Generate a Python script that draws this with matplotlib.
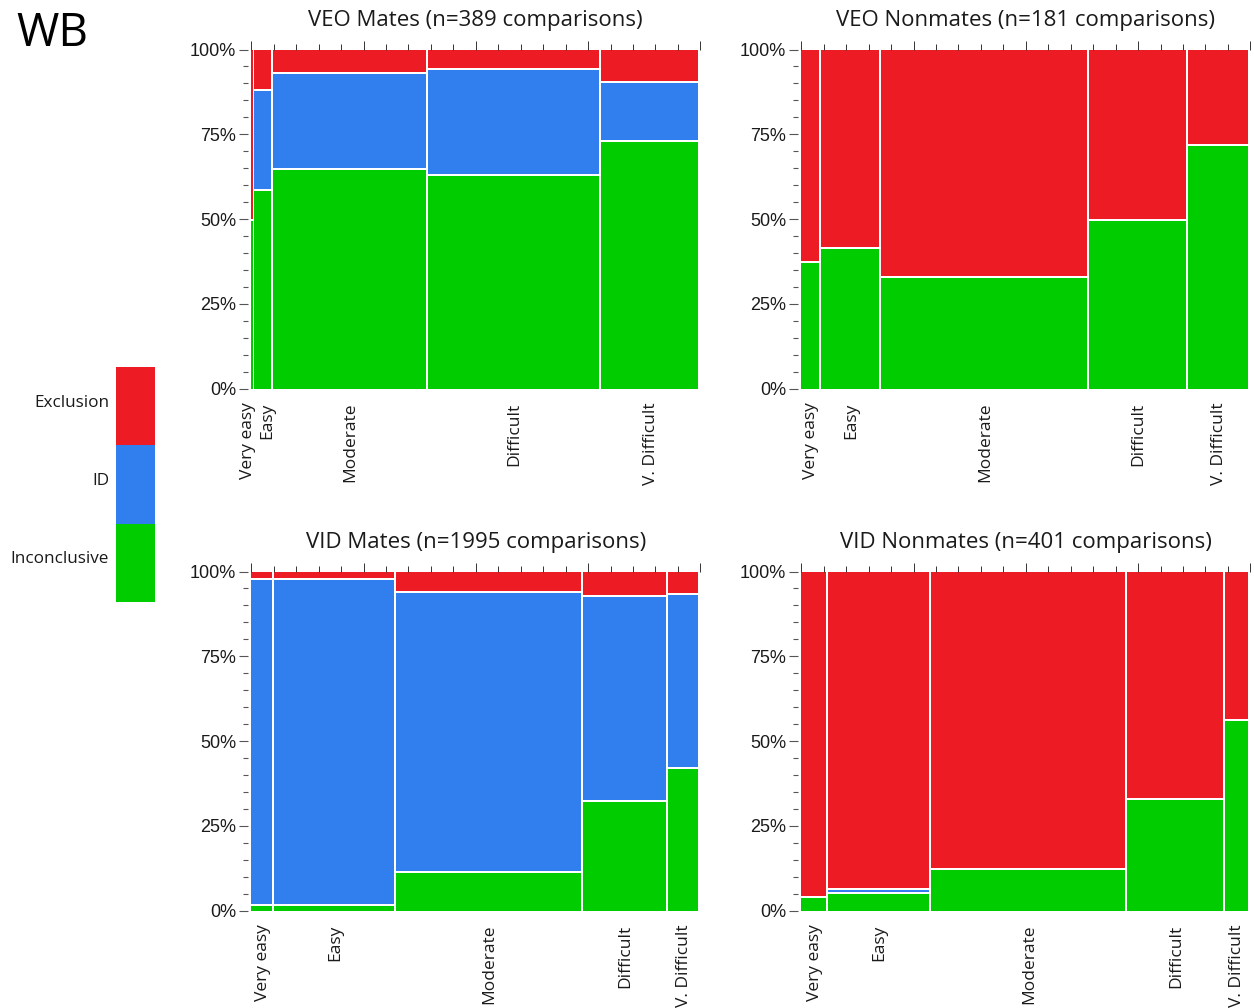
"""
Mosaic plots of examiner decisions by difficulty (WB group).
Column widths = number of comparisons, stacked heights = decision shares.
"""

import numpy as np
import matplotlib
matplotlib.use("Agg")
import matplotlib.pyplot as plt
from matplotlib.ticker import MultipleLocator, FuncFormatter


# Decision colours, bottom to top of each column
DECISIONS = ["Inconclusive", "ID", "Exclusion"]
DECISION_COLORS = ["#00cc00", "#317fef", "#ed1c24"]

CATEGORIES = ["Very easy", "Easy", "Moderate", "Difficult", "V. Difficult"]

# counts per difficulty
VEO_MATES_INC = [1, 10, 87, 95, 63]
VEO_MATES_ID = [0, 5, 38, 47, 15]
VEO_MATES_EXC = [1, 2, 9, 8, 8]

VEO_NONMATES_INC = [3, 10, 28, 20, 18]
VEO_NONMATES_ID = [0, 0, 0, 0, 0]
VEO_NONMATES_EXC = [5, 14, 56, 20, 7]

VID_MATES_INC = [2, 11, 97, 122, 61]
VID_MATES_ID = [97, 518, 690, 227, 74]
VID_MATES_EXC = [2, 11, 48, 26, 9]

VID_NONMATES_INC = [1, 5, 22, 29, 13]
VID_NONMATES_ID = [0, 1, 0, 0, 0]
VID_NONMATES_EXC = [23, 86, 153, 58, 10]

PANELS = [
    ("VEO Mates", [VEO_MATES_INC, VEO_MATES_ID, VEO_MATES_EXC]),
    ("VEO Nonmates", [VEO_NONMATES_INC, VEO_NONMATES_ID, VEO_NONMATES_EXC]),
    ("VID Mates", [VID_MATES_INC, VID_MATES_ID, VID_MATES_EXC]),
    ("VID Nonmates", [VID_NONMATES_INC, VID_NONMATES_ID, VID_NONMATES_EXC]),
]

FIG_W, FIG_H = 1254, 1008
AX_W, AX_H = 449, 339
AX_LEFT = [251.3, 801.3]     # px
AX_TOP = [49.5, 571.5]       # px
GAP_PX = 2.0                 # white separators
LABEL_SEP_PX = 19            # min spacing of rotated category labels

TEXT_FONT = ["Open Sans", "DejaVu Sans"]
TICK_FONT = ["Liberation Sans", "DejaVu Sans"]
TEXT_COLOR = "#1a1a1a"


def spread_labels(centers, min_sep):
    """Push label centers apart symmetrically so they don't overlap."""
    c = list(centers)
    for _ in range(20):
        moved = False
        for i in range(len(c) - 1):
            d = c[i + 1] - c[i]
            if d < min_sep - 1e-9:
                shift = (min_sep - d) / 2
                c[i] -= shift
                c[i + 1] += shift
                moved = True
        if not moved:
            break
    return c


def draw_mosaic(ax, title, series):
    counts = np.array(series, dtype=float)          # (decision, category)
    col_tot = counts.sum(axis=0)
    total = col_tot.sum()
    widths = col_tot / total
    lefts = np.concatenate([[0], np.cumsum(widths)[:-1]])
    fracs = counts / col_tot

    gap_x = GAP_PX / AX_W
    gap_y = GAP_PX / AX_H
    draw_w = np.maximum(widths - gap_x, 1.2 / AX_W)

    cum = np.zeros(len(CATEGORIES))
    for k, color in enumerate(DECISION_COLORS):
        top = cum + fracs[k]
        h = np.where(top < 1 - 1e-9, fracs[k] - gap_y, fracs[k])
        h = np.where(fracs[k] > 0, np.maximum(h, 0.6 / AX_H), 0)
        ax.bar(lefts, h, width=draw_w, bottom=cum, align="edge",
               color=color, linewidth=0)
        cum = top

    ax.set_xlim(0, 1)
    ax.set_ylim(0, 1)
    for s in ax.spines.values():
        s.set_visible(False)
    ax.spines["left"].set_position(("outward", 2.2))

    ax.yaxis.set_major_locator(MultipleLocator(0.25))
    ax.yaxis.set_minor_locator(MultipleLocator(0.05))
    ax.yaxis.set_major_formatter(FuncFormatter(lambda v, _: f"{v * 100:.0f}%"))
    ax.tick_params(axis="y", which="major", length=6.5, width=0.8,
                   color="#555555", pad=2.2, labelsize=13,
                   labelcolor=TEXT_COLOR)
    ax.tick_params(axis="y", which="minor", length=3.6, width=0.8,
                   color="#555555")
    for lbl in ax.get_yticklabels():
        lbl.set_family(TICK_FONT)

    ax.xaxis.set_ticks_position("top")
    ax.xaxis.set_major_locator(MultipleLocator(0.25))
    ax.xaxis.set_minor_locator(MultipleLocator(0.05))
    ax.tick_params(axis="x", which="both", labeltop=False, labelbottom=False,
                   direction="out", color="#333333", width=0.7)
    ax.tick_params(axis="x", which="major", length=6.5)
    ax.tick_params(axis="x", which="minor", length=4)

    centers = spread_labels(lefts + widths / 2, LABEL_SEP_PX / AX_W)
    for cat, cx in zip(CATEGORIES, centers):
        ax.annotate(cat, xy=(cx, 0), xycoords=("data", "axes fraction"),
                    xytext=(0, -14), textcoords="offset pixels",
                    rotation=90, ha="center", va="top", fontsize=12.5,
                    family=TEXT_FONT, color=TEXT_COLOR)

    ax.set_title(f"{title} (n={int(total)} comparisons)", fontsize=16,
                 family=TEXT_FONT, color=TEXT_COLOR, pad=17)


fig = plt.figure(figsize=(FIG_W / 100, FIG_H / 100), dpi=100)

for i, (title, series) in enumerate(PANELS):
    left = AX_LEFT[i % 2]
    top = AX_TOP[i // 2]
    ax = fig.add_axes([left / FIG_W, 1 - (top + AX_H) / FIG_H,
                       AX_W / FIG_W, AX_H / FIG_H])
    draw_mosaic(ax, title, series)

# colour key on the left
lax = fig.add_axes([116 / FIG_W, 1 - 602 / FIG_H, 39 / FIG_W, 235 / FIG_H])
lax.bar(np.zeros(len(DECISIONS)), np.ones(len(DECISIONS)), width=1,
        bottom=np.arange(len(DECISIONS)), align="edge",
        color=DECISION_COLORS, linewidth=0)
lax.set_xlim(0, 1)
lax.set_ylim(0, len(DECISIONS))
lax.set_xticks([])
# labels sit a little above the middle of each block
lax.set_yticks(np.arange(len(DECISIONS)) + 0.57)
lax.set_yticklabels(DECISIONS, family=TEXT_FONT, fontsize=12.3,
                    color=TEXT_COLOR)
lax.tick_params(axis="y", length=0, pad=5)
for s in lax.spines.values():
    s.set_visible(False)

fig.text(16 / FIG_W, 1 - 46 / FIG_H, "WB", fontsize=33, family=TEXT_FONT,
         color="black", va="baseline", ha="left")

fig.savefig("out.png", dpi=100)
plt.close(fig)
